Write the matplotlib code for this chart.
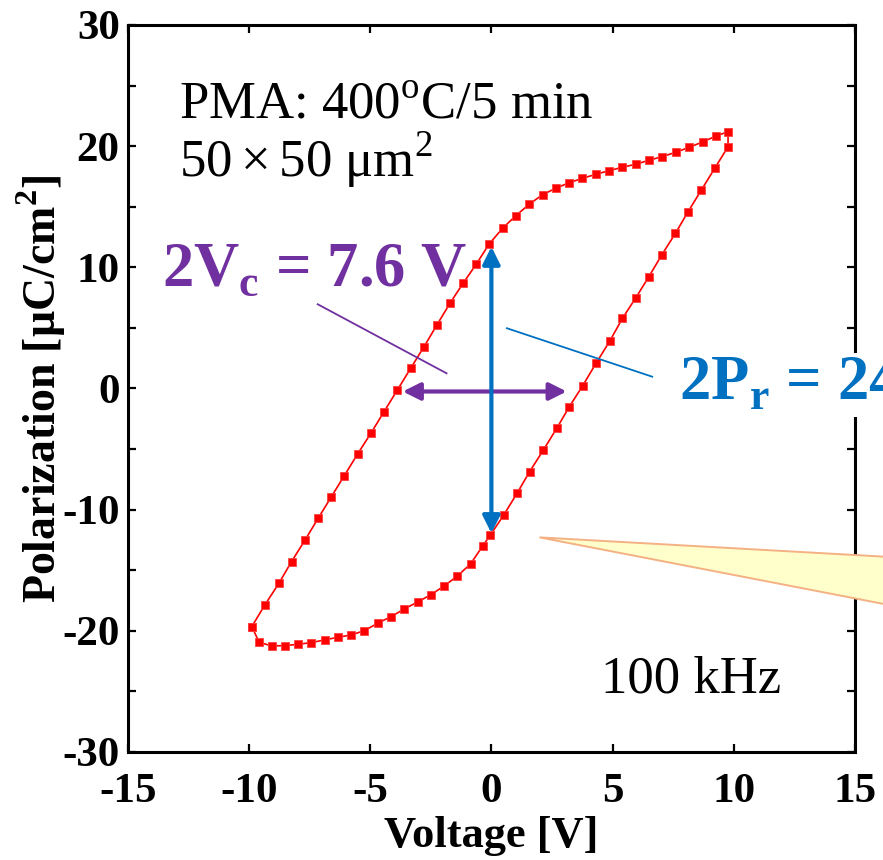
import matplotlib
matplotlib.use('Agg')
import matplotlib.pyplot as plt
from matplotlib.patches import Polygon

plt.rcParams['font.family'] = ['Liberation Serif', 'DejaVu Serif']
plt.rcParams['mathtext.fontset'] = 'custom'
plt.rcParams['mathtext.rm'] = 'Liberation Serif'
plt.rcParams['mathtext.bf'] = 'Liberation Serif:bold'

# P-V hysteresis loop (V, uC/cm2)
voltage = [-9.89, -9.35, -8.77, -8.25, -7.70, -7.15, -6.62, -6.07, -5.52, -4.96,
           -4.43, -3.88, -3.33, -2.78, -2.24, -1.71, -1.17, -0.62, -0.10,
           0.46, 1.01, 1.56, 2.11, 2.66, 3.21, 3.76, 4.30, 4.85, 5.40,
           5.95, 6.50, 7.05, 7.61, 8.16, 8.72, 9.27, 9.77,
           9.77, 9.22, 8.67, 8.12, 7.60, 7.03, 6.50, 5.95, 5.41,
           4.89, 4.32, 3.77, 3.22, 2.70, 2.15, 1.58, 1.06, 0.51, -0.04, -0.35,
           -0.86, -1.40, -1.95, -2.49, -3.04, -3.59, -4.14, -4.69, -5.24,
           -5.78, -6.33, -6.88, -7.43, -7.97, -8.52, -9.07, -9.59]
polarization = [-19.65, -17.86, -16.07, -14.29, -12.53, -10.71, -8.98, -7.19, -5.40, -3.65,
                -1.91, -0.12, 1.67, 3.45, 5.27, 7.03, 8.68, 10.27, 11.90,
                13.22, 14.26, 15.20, 15.99, 16.52, 16.98, 17.34, 17.67, 17.97, 18.25,
                18.50, 18.83, 19.13, 19.49, 19.90, 20.34, 20.83, 21.19,
                19.95, 18.17, 16.38, 14.59, 12.81, 11.01, 9.22, 7.44, 5.79,
                3.92, 2.08, 0.23, -1.50, -3.28, -5.07, -6.86, -8.65, -10.44, -12.09, -12.97,
                -14.48, -15.47, -16.30, -17.01, -17.62, -18.19, -18.83, -19.37, -19.98,
                -20.34, -20.53, -20.75, -20.97, -21.11, -21.22, -21.25, -20.94]

x_ticks = [-15, -10, -5, 0, 5, 10, 15]
y_ticks = [-30, -20, -10, 0, 10, 20, 30]

vc_span = [-3.66, 3.11]      # 2Vc arrow
pr_span = [11.7, -11.95]     # 2Pr arrow

purple = '#7030A0'
blue = '#0070C0'

fig = plt.figure(figsize=(8.83, 8.60), dpi=100)
ax = fig.add_axes([0.145, 0.1256, 0.823, 0.8454])

ax.plot(voltage + voltage[:1], polarization + polarization[:1], color='#FF0000',
        lw=1.2, marker='s', markersize=6.2, markerfacecolor='#FF0000',
        markeredgecolor='#FF4040', markeredgewidth=0.6, zorder=3)

ax.set_xlim(-15, 15)
ax.set_ylim(-30, 30)
ax.set_xticks(x_ticks)
ax.set_yticks(y_ticks)
ax.set_yticks([-25, -15, -5, 5, 15, 25], minor=True)
ax.set_xticklabels([str(t) for t in x_ticks])
ax.set_yticklabels([str(t) for t in y_ticks])
ax.tick_params(which='both', direction='in', top=True, right=True,
               length=6, width=1.6)
ax.tick_params(axis='x', labelsize=31, pad=15)
ax.tick_params(axis='y', labelsize=31, pad=6)
for lab in ax.get_xticklabels() + ax.get_yticklabels():
    lab.set_fontweight('bold')
for sp in ax.spines.values():
    sp.set_linewidth(2.2)

ax.set_xlabel('Voltage [V]', fontsize=32, fontweight='bold', labelpad=4)
ax.set_ylabel(r'Polarization [$\mathregular{\mu}$C/cm$^\mathregular{2}$]',
              fontsize=33, fontweight='bold', labelpad=-4)

# arrows and leader lines
ax.annotate('', xy=(vc_span[0], -0.25), xytext=(vc_span[1], -0.25),
            arrowprops=dict(arrowstyle='<|-|>', color=purple, lw=3,
                            mutation_scale=26, shrinkA=0, shrinkB=0), zorder=4)
ax.annotate('', xy=(0, pr_span[0]), xytext=(0, pr_span[1]),
            arrowprops=dict(arrowstyle='<|-|>', color=blue, lw=3,
                            mutation_scale=26, shrinkA=0, shrinkB=0), zorder=4)
ax.plot([-7.17, -1.85], [6.95, 1.25], color=purple, lw=1.3, zorder=4)
ax.plot([0.64, 6.64], [4.97, 0.97], color=blue, lw=1.3, zorder=4)

# callout wedge running off the right edge
wedge = Polygon([(1.985, -12.29), (18, -14.08), (18, -18.48)], closed=True,
                facecolor='#FFFFCC', edgecolor='#F4B183', lw=1.4,
                clip_on=False, zorder=5)
ax.add_patch(wedge)

ax.text(-12.9, 22.3, r'PMA: 400$^\mathregular{o}$C/5 min', fontsize=38,
        va='baseline', ha='left')
ax.text(-12.9, 17.5, r'50$\,\mathregular{\times}\,$50 $\mathregular{\mu}$m$^\mathregular{2}$',
        fontsize=38, va='baseline', ha='left')
ax.text(-13.6, 8.5, r'2V$_\mathregular{c}$ = 7.6 V', fontsize=45, fontweight='bold',
        color=purple, va='baseline', ha='left', zorder=5)
ax.text(7.75, -0.95, r'2P$_\mathregular{r}$ = 24', fontsize=45, fontweight='bold',
        color=blue, va='baseline', ha='left', clip_on=False, zorder=6,
        bbox=dict(boxstyle='square,pad=0.05', facecolor='white', edgecolor='none'))
ax.text(4.53, -25.1, '100 kHz', fontsize=38, va='baseline', ha='left')

fig.savefig('out.png', dpi=100)
